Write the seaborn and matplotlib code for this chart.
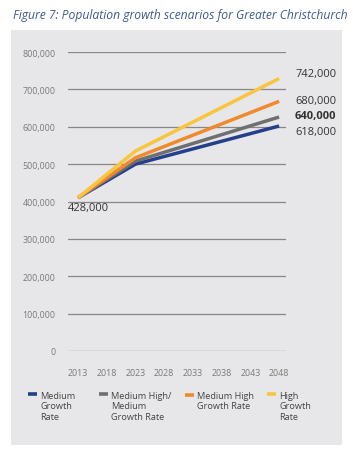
import matplotlib
matplotlib.use("Agg")
import matplotlib.pyplot as plt
from matplotlib.patches import Rectangle
from matplotlib.legend_handler import HandlerLine2D
from matplotlib.lines import Line2D
import seaborn as sns
import pandas as pd

# ---- data ----
years = [2013, 2023, 2048]
medium = [410000, 500000, 602000]
medium_high_medium = [410000, 508000, 626000]
medium_high = [410000, 517000, 668000]
high = [410000, 535000, 729000]
series_names = ["Medium\nGrowth\nRate", "Medium High/\nMedium\nGrowth Rate",
                "Medium High\nGrowth Rate", "High\nGrowth\nRate"]
end_labels = ["618,000", "640,000", "680,000", "742,000"]
start_label = "428,000"
x_ticks = [2013, 2018, 2023, 2028, 2033, 2038, 2043, 2048]
y_ticks = [0, 100000, 200000, 300000, 400000, 500000, 600000, 700000, 800000]
title = "Figure 7: Population growth scenarios for Greater Christchurch"

colors = ["#243f8c", "#6f6f71", "#f08a2c", "#f9c53e"]

sns.set_theme(style="white")
plt.rcParams["font.family"] = ["Open Sans", "DejaVu Sans"]

df = pd.DataFrame({
    "year": years * 4,
    "pop": medium + medium_high_medium + medium_high + high,
    "scenario": sum([[n] * len(years) for n in series_names], []),
})

W, H = 353, 456
fig = plt.figure(figsize=(W / 100, H / 100), dpi=100)
fig.patch.set_facecolor("white")

# grey panel
fig.patches.append(Rectangle((11 / W, 1 - 446 / H), 331 / W, 415 / H,
                             transform=fig.transFigure, facecolor="#e7e7e9",
                             edgecolor="none", zorder=-5))

fig.text(13 / W, 1 - 15 / H, title, fontsize=8.7, style="italic",
         color="#3e5a8c", ha="left", va="center")

ax = fig.add_axes([68 / W, 1 - 352 / H, 218 / W, 299 / H])
ax.set_facecolor("none")
ax.set_zorder(2)

sns.lineplot(data=df, x="year", y="pop", hue="scenario", hue_order=series_names,
             palette=colors, linewidth=2.5, legend=False, ax=ax, zorder=3)
for ln in ax.get_lines():
    ln.set_solid_capstyle("butt")

ax.set_xlim(2011.26, 2049.2)
ax.set_ylim(0, 800000)
ax.set_xticks(x_ticks)
ax.set_xticklabels([str(t) for t in x_ticks])
ax.set_yticks(y_ticks)
ax.set_yticklabels([f"{v:,}" for v in y_ticks])
ax.set_xlabel("")
ax.set_ylabel("")
for s in ax.spines.values():
    s.set_visible(False)
ax.grid(axis="y", color="#878787", linewidth=0.9, zorder=1)
ax.grid(axis="x", visible=False)
ax.set_axisbelow(True)
ax.tick_params(axis="both", length=0, labelsize=6.4, labelcolor="#7a7a7a")
ax.tick_params(axis="y", pad=9)
ax.tick_params(axis="x", pad=12)

# start label
ax.annotate(start_label, xy=(years[0], medium[0]), xytext=(-10, -10),
            textcoords="offset pixels", ha="left", va="center",
            fontsize=8, color="#333333")

# end labels
ends = [medium[-1], medium_high_medium[-1], medium_high[-1], high[-1]]
offsets = [5, -1.5, -1, -5]
for val, lab, off, bold in zip(ends, end_labels, offsets, [False, True, False, False]):
    ax.annotate(lab, xy=(years[-1], val), xytext=(16, -off),
                textcoords="offset pixels", ha="left", va="center",
                fontsize=8, color="#333333",
                fontweight="bold" if bold else "normal")


class TopHandler(HandlerLine2D):
    def __init__(self, shift, **kw):
        super().__init__(**kw)
        self.shift = shift

    def create_artists(self, legend, orig_handle, xdescent, ydescent, width,
                       height, fontsize, trans):
        arts = super().create_artists(legend, orig_handle, xdescent, ydescent,
                                      width, height, fontsize, trans)
        for a in arts:
            if isinstance(a, Line2D):
                a.set_ydata([y + self.shift for y in a.get_ydata()])
        return arts


# legend: one entry per column
handles = ax.get_lines()[:4]
leg_x = [28, 99, 185, 267]
fs = 6.6
ls = 1.18
for h, name, x in zip(handles, series_names, leg_x):
    nlines = name.count("\n") + 1
    shift = (nlines - 1) / 2 * fs * ls * 1.15
    leg = fig.legend([h], [name], loc="upper left",
                     bbox_to_anchor=(x / W, 1 - 392 / H),
                     frameon=False, fontsize=fs, handlelength=1.0,
                     handletextpad=0.35, borderpad=0, borderaxespad=0,
                     labelspacing=0, handler_map={h: TopHandler(shift)})
    for t in leg.get_texts():
        t.set_color("#444444")
        t.set_linespacing(ls)
    for lh in leg.legend_handles:
        lh.set_linewidth(2.6)

fig.savefig("out.png", dpi=100, facecolor="white")
